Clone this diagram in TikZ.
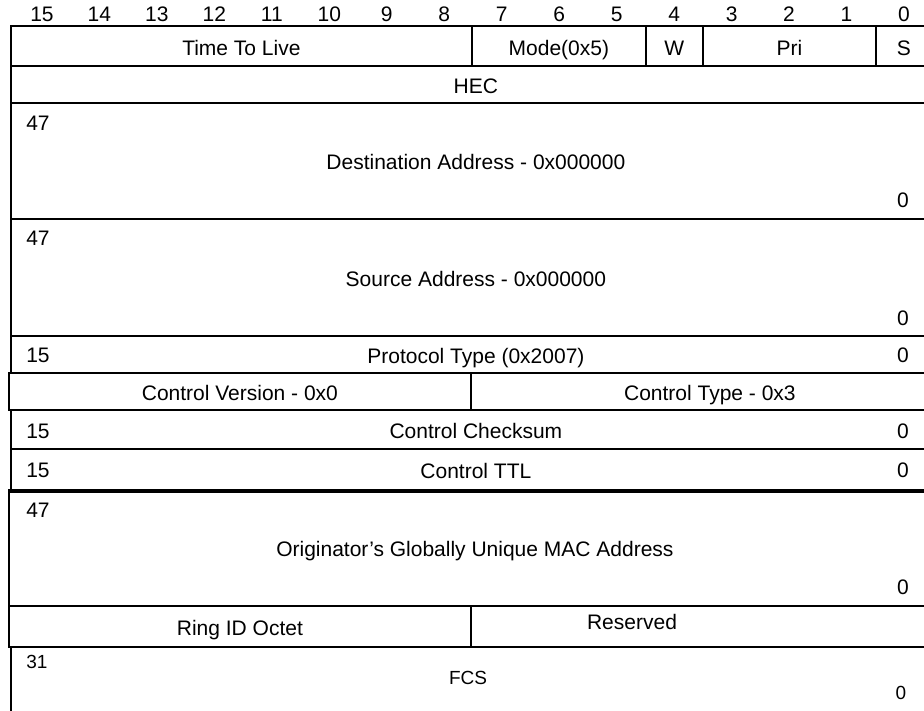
\documentclass[tikz,border=0pt]{standalone}
\usepackage{fontspec}
\setmainfont{Liberation Sans}

\begin{document}
\begin{tikzpicture}[
        x=1pt,
        y=-1pt,
        every node/.style={font=\fontsize{21}{25}\selectfont},
        field/.style={
            rectangle,
            draw,
            line width=1.8pt,
            inner sep=0pt,
            text height=18pt,
            text depth=0pt,
            anchor=north west
        },
        bitnum/.style={inner sep=0pt},
        corner/.style={inner sep=0pt},
        divider/.style={line width=3.5pt}
    ]
    \useasboundingbox (0,0) rectangle (924,711);

    % Bit numbers
    \foreach \k in {0,...,15}
        \node[bitnum] (b\k) at ({904-57.47*\k},14.5) {\k};

    % Header word
    \node[field, minimum width=461pt, minimum height=39.5pt] (ttl) at (10,25.5) {Time To Live};
    \node[field, minimum width=174pt, minimum height=39.5pt] (mode) at (471,25.5) {Mode(0x5)};
    \node[field, minimum width=57pt, minimum height=39.5pt] (wbit) at (645,25.5) {W};
    \node[field, minimum width=173pt, minimum height=39.5pt] (pri) at (702,25.5) {Pri};
    \node[field, minimum width=56pt, minimum height=39.5pt] (sbit) at (875,25.5) {S};

    \node[field, minimum width=930pt, minimum height=37pt] (hec) at (10,65) {HEC};

    % Addresses
    \node[field, minimum width=930pt, minimum height=116pt] (dst) at (10,102) {Destination Address - 0x000000};
    \node[corner] (dsthi) at (38,123) {47};
    \node[corner] (dstlo) at (903,200) {0};

    \node[field, minimum width=930pt, minimum height=117pt] (src) at (10,218) {Source Address - 0x000000};
    \node[corner] (srchi) at (38,238) {47};
    \node[corner] (srclo) at (903,318) {0};

    \node[field, minimum width=930pt, minimum height=37pt] (proto) at (10,335) {Protocol Type (0x2007)};
    \node[corner] (protohi) at (38,355) {15};
    \node[corner] (protolo) at (903,355) {0};

    % Control header
    \node[field, minimum width=462pt, minimum height=37pt] (cver) at (8,372) {Control Version - 0x0};
    \node[field, minimum width=478pt, minimum height=37pt] (ctype) at (470,372) {Control Type - 0x3};

    \node[field, minimum width=930pt, minimum height=39pt] (chk) at (10,409) {Control Checksum};
    \node[corner] (chkhi) at (38,431) {15};
    \node[corner] (chklo) at (903,431) {0};

    \node[field, minimum width=930pt, minimum height=41pt] (cttl) at (10,448) {Control TTL};
    \node[corner] (cttlhi) at (38,470) {15};
    \node[corner] (cttllo) at (903,470) {0};
    \draw[divider] (cttl.south west) -- (cttl.south east);

    % Originator
    \node[field, minimum width=932pt, minimum height=116pt] (orig) at (8,489) {Originator’s Globally Unique MAC Address};
    \node[corner] (orighi) at (38,510) {47};
    \node[corner] (origlo) at (903,587) {0};

    \node[field, minimum width=462pt, minimum height=41pt] (ring) at (8,605) {Ring ID Octet};
    \node[field, minimum width=478pt, minimum height=41pt] (resv) at (470,605) {};
    \node[corner] (resvtext) at (632,622) {Reserved};

    % Frame check sequence
    \node[field, minimum width=930pt, minimum height=90pt] (fcs) at (10,646) {};
    \node[corner, font=\fontsize{19}{23}\selectfont] (fcshi) at (37,662) {31};
    \node[corner, font=\fontsize{19}{23}\selectfont] (fcstext) at (468,678) {FCS};
    \node[corner, font=\fontsize{19}{23}\selectfont] (fcslo) at (901,693) {0};
\end{tikzpicture}
\end{document}
